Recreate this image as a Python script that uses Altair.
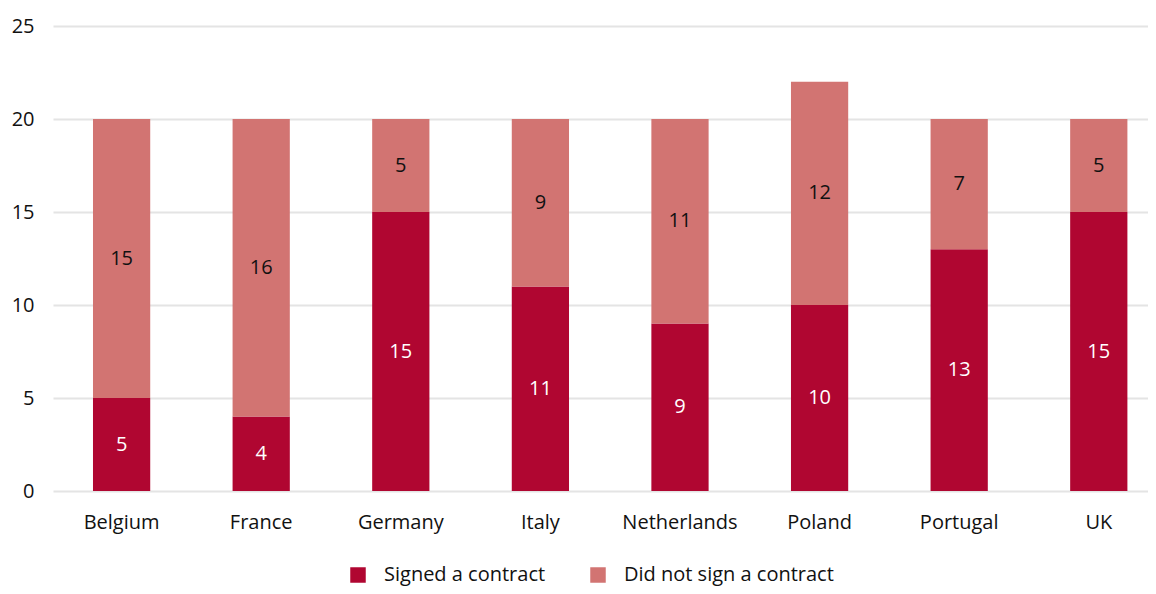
import altair as alt
import pandas as pd

countries = ["Belgium", "France", "Germany", "Italy", "Netherlands", "Poland", "Portugal", "UK"]
signed = [5, 4, 15, 11, 9, 10, 13, 15]
not_signed = [15, 16, 5, 9, 11, 12, 7, 5]
series = ["Signed a contract", "Did not sign a contract"]
colors = ["#B00631", "#D27472"]
text_colors = ["white", "#111111"]

rows = []
for c, s, n in zip(countries, signed, not_signed):
    rows.append({"country": c, "series": series[0], "value": s, "order": 0,
                 "start": 0, "end": s, "tcolor": text_colors[0]})
    rows.append({"country": c, "series": series[1], "value": n, "order": 1,
                 "start": s, "end": s + n, "tcolor": text_colors[1]})
df = pd.DataFrame(rows)
df["mid"] = (df["start"] + df["end"]) / 2

FONT = "Open Sans"
FS = 20

x = alt.X("country:N", sort=countries, title=None,
          scale=alt.Scale(paddingInner=0.59, paddingOuter=0.217, align=0.66),
          axis=alt.Axis(labelAngle=0, labelFontSize=FS, labelColor="#111111",
                        labelFont=FONT, domain=False, ticks=False, labelPadding=21))

bars = alt.Chart(df).mark_bar().encode(
    x=x,
    y=alt.Y("start:Q", title=None,
            scale=alt.Scale(domain=[0, 25], nice=False),
            axis=alt.Axis(values=[0, 5, 10, 15, 20, 25], labelFontSize=FS,
                          labelColor="#111111", labelFont=FONT, domain=False,
                          ticks=False, labelPadding=19, gridColor="#e4e4e4",
                          gridWidth=2)),
    y2="end:Q",
    color=alt.Color("series:N", sort=series,
                    scale=alt.Scale(domain=series, range=colors),
                    legend=alt.Legend(title=None, orient="none", direction="horizontal",
                                      legendX=295, legendY=539,
                                      symbolType="square", symbolSize=240,
                                      symbolStrokeWidth=0, labelFontSize=FS,
                                      labelFont=FONT, labelColor="#111111",
                                      labelLimit=400,
                                      columnPadding=42, labelOffset=16)),
)

labels = alt.Chart(df).mark_text(fontSize=FS, font=FONT).encode(
    x=alt.X("country:N", sort=countries),
    y=alt.Y("mid:Q"),
    text=alt.Text("value:Q"),
    color=alt.Color("tcolor:N", scale=None),
)

chart = alt.layer(bars, labels).properties(
    width=1095, height=465,
    autosize=alt.AutoSizeParams(type="none"),
    padding={"left": 45, "top": 18, "right": 0, "bottom": 95},
).configure_view(stroke=None).configure_legend(symbolFillColor=None)

chart.save("out.html", embed_options={"renderer": "svg", "actions": False})
